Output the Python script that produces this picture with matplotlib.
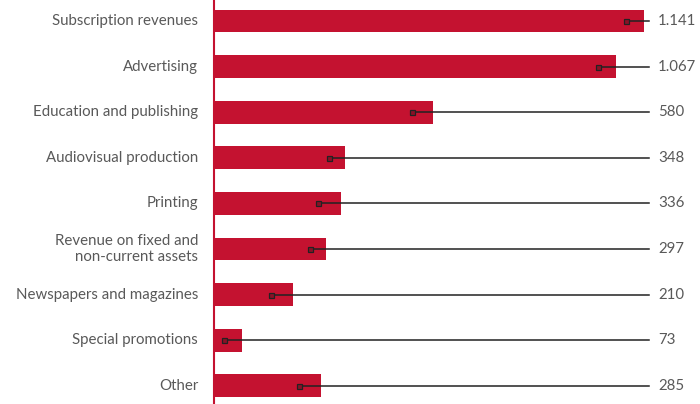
import matplotlib.pyplot as plt

categories = ['Subscription revenues', 'Advertising', 'Education and publishing',
              'Audiovisual production', 'Printing',
              'Revenue on fixed and\nnon-current assets',
              'Newspapers and magazines', 'Special promotions', 'Other']
values = [1141, 1067, 580, 348, 336, 297, 210, 73, 285]
value_labels = ['1.141', '1.067', '580', '348', '336', '297', '210', '73', '285']
# small square markers inside the bars
markers = [1093, 1019, 525, 304, 277, 255, 151, 27, 225]

bar_color = '#c41230'
text_color = '#595959'
line_end = 1154
label_x = 1178

plt.rcParams['font.family'] = ['Lato', 'DejaVu Sans']

fig = plt.figure(figsize=(7, 4.04), dpi=100)
ax = fig.add_axes([214 / 700, 0, 486 / 700, 1])

y = list(range(len(categories)))
ax.barh(y, values, height=0.5, color=bar_color, zorder=2)

for i, m in enumerate(markers):
    ax.plot([m, line_end], [i, i], color='#222222', lw=1.1, zorder=3)
    ax.plot(m, i, marker='s', ms=3.6, mfc='#8a1026', mec='#222222', mew=0.9, zorder=4)
    ax.text(label_x, i, value_labels[i], ha='left', va='center',
            fontsize=10.8, color=text_color)
    ax.text(-16 * 1289 / 486, i, categories[i], ha='right', va='center',
            fontsize=10.8, color=text_color, linespacing=1.15)

ax.set_xlim(0, 1289)
ax.set_ylim(8.40, -0.46)
ax.set_xticks([])
ax.set_yticks([])
for s in ['top', 'right', 'bottom']:
    ax.spines[s].set_visible(False)
ax.spines['left'].set_color(bar_color)
ax.spines['left'].set_linewidth(1.5)
ax.patch.set_visible(False)

fig.savefig('out.png', dpi=100)
